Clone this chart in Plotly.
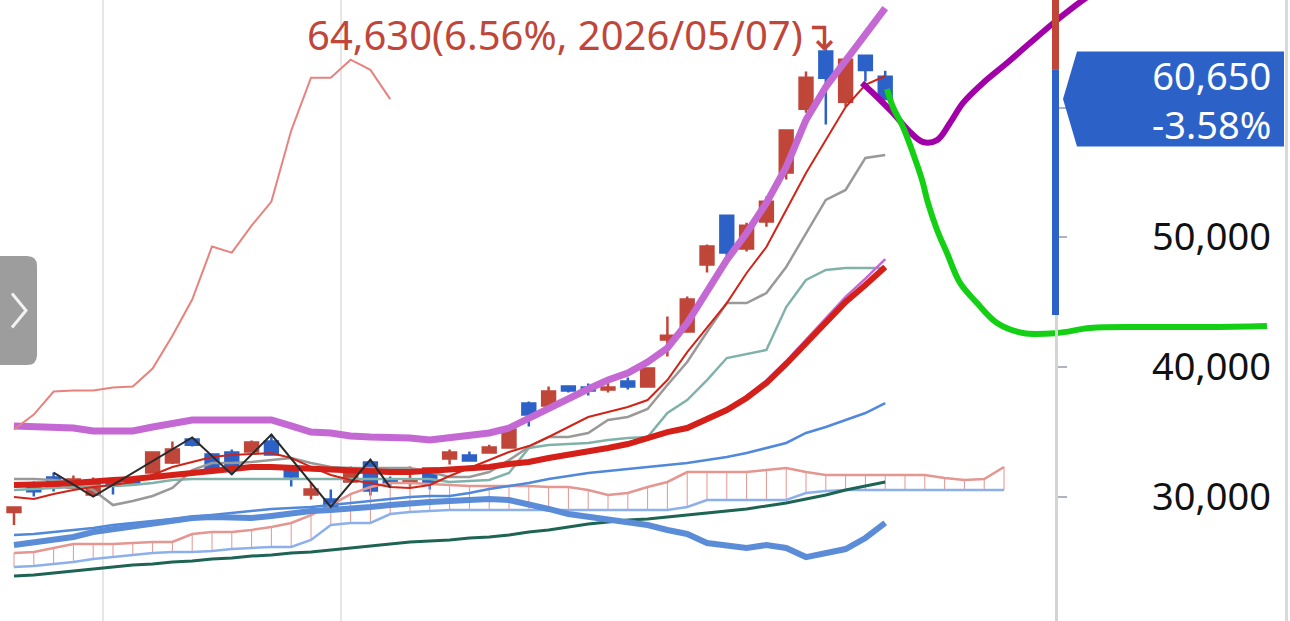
import plotly.graph_objects as go

# ---- daily candles (index 0 = leftmost day) ----
opens = [28800, 30700, 31460, 30700, 30150, 31000, 31390, 31850, 32620, 34390,
         33240, 33390, 33470, 34240, 32080, 30150, 29770, 31160, 32620, 31310,
         31080, 32160, 32930, 33160, 33390, 33780, 37170, 37020, 38480, 38400,
         38250, 38870, 38480, 42100, 42720, 47890, 51660, 49120, 51200, 54980,
         59910, 64310, 60450, 64000, 62380]
highs = [29200, 31150, 31850, 31620, 31460, 31460, 31540, 33400, 34240, 34550,
         33300, 33620, 34320, 34780, 32200, 31080, 30540, 32310, 32850, 31540,
         32310, 32200, 33620, 33470, 34000, 35400, 37330, 38480, 38500, 38710,
         39020, 39170, 39950, 43880, 45420, 49430, 51660, 51120, 53130, 58220,
         62770, 64630, 63700, 64000, 62840]
lows = [27800, 30000, 30390, 30600, 30000, 30150, 31000, 31800, 32500, 33850,
        31930, 31700, 33400, 33200, 30770, 29770, 29200, 31100, 30080, 30700,
        30700, 30540, 32470, 32780, 33390, 33700, 35400, 36940, 38020, 37790,
        38020, 38250, 38400, 40800, 42700, 47270, 47890, 48890, 50810, 54440,
        59600, 58680, 60070, 62000, 60650]
closes = [29150, 30400, 30770, 31310, 31160, 30850, 31080, 33390, 33620, 34000,
          32080, 32310, 34160, 33240, 31540, 30540, 29230, 32080, 30460, 31080,
          31310, 31080, 33390, 32780, 33780, 35170, 36320, 38100, 38170, 38170,
          38400, 38480, 39870, 42400, 45190, 49280, 48810, 50890, 52740, 58220,
          62300, 62300, 63690, 62900, 60650]

# ---- indicator lines ----
bb_upper = [35440, 35360, 35360, 35280, 35050, 35050, 35050, 35360, 35590, 35900,
            35900, 35900, 35900, 35900, 35440, 34970, 34900, 34670, 34590, 34590,
            34510, 34360, 34510, 34670, 34900, 35280, 36050, 36900, 37670, 38290,
            38980, 39520, 40370, 41450, 43380, 45930, 48240, 50320, 52640, 55410,
            59040, 61580, 63660, 65750, 67670]
bb_mid = [30890, 30890, 30960, 31040, 31200, 31270, 31350, 31500, 31660, 31890,
          32040, 32200, 32280, 32280, 32200, 32120, 32040, 31970, 31970, 31890,
          31890, 31970, 32040, 32120, 32280, 32510, 32660, 32970, 33200, 33430,
          33740, 34050, 34510, 34970, 35280, 35980, 36670, 37600, 38750, 40220,
          41840, 43460, 45000, 46310, 47700]
bb_lower = [26260, 26490, 26650, 26880, 27260, 27490, 27730, 27960, 28110, 28340,
            28420, 28420, 28340, 28500, 28730, 28880, 28960, 29040, 29190, 29340,
            29500, 29580, 29650, 29730, 29810, 29730, 29420, 29040, 28650, 28420,
            28190, 28030, 27800, 27420, 27110, 26410, 26180, 26030, 26260, 26030,
            25330, 25640, 25950, 26800, 27960]
ma5 = [29960, 29810, 30190, 30500, 30730, 30890, 31120, 31660, 32280, 32660,
       33050, 33200, 33280, 33350, 32970, 32280, 31660, 31270, 31040, 30730,
       30660, 30890, 31580, 32200, 32810, 33430, 33890, 34590, 35360, 36130,
       36520, 36900, 37440, 38980, 41140, 43070, 44920, 47240, 49240, 52100,
       54950, 57490, 60040, 61740, 62430]
tenkan = [31350, 31350, 31270, 31120, 30500, 29340, 29650, 30040, 30660, 32040,
          32580, 32580, 32660, 32810, 32970, 32580, 32280, 32200, 32200, 32200,
          32200, 31890, 31500, 31500, 31890, 32810, 33820, 34590, 34590, 34900,
          35900, 36130, 36750, 38600, 40370, 42690, 44920, 44920, 45690, 47700,
          50320, 52870, 53640, 56110, 56340]
kijun = [30500, 30580, 30660, 30730, 30810, 30810, 30890, 31040, 31270, 31350,
         31350, 31350, 31350, 31350, 31350, 31350, 31350, 31350, 31350, 31350,
         31350, 31350, 31120, 31200, 31270, 31810, 33740, 33970, 34050, 34130,
         34360, 34510, 34590, 36440, 37440, 38980, 40680, 40990, 41300, 44610,
         46700, 47470, 47620, 47620, 47620]
ma60 = [27030, 27110, 27260, 27420, 27570, 27800, 27960, 28110, 28270, 28420,
        28570, 28730, 28880, 29040, 29110, 29190, 29340, 29500, 29650, 29810,
        29960, 30040, 30040, 30270, 30580, 30810, 31040, 31350, 31580, 31810,
        31970, 32120, 32280, 32430, 32580, 32810, 33050, 33350, 33740, 34130,
        34900, 35360, 35900, 36440, 37210]
ma120 = [23870, 23950, 24100, 24250, 24410, 24560, 24720, 24790, 24950, 25030,
         25180, 25260, 25410, 25490, 25640, 25720, 25870, 26030, 26180, 26340,
         26490, 26570, 26650, 26800, 26880, 27030, 27260, 27420, 27650, 27880,
         28030, 28190, 28270, 28420, 28570, 28730, 28880, 29040, 29270, 29500,
         29810, 30120, 30500, 30810, 31120]
# envelope line mostly hidden under the 20 day line, starts at day 26
env_start = 26
envelope = [32600, 32900, 33150, 33400, 33750, 34100, 34600, 35050, 35400, 36100,
            36800, 37750, 38950, 40450, 42100, 43800, 45400, 46800, 48300]

# leading spans run 6 days past the last candle
span_a = [25640, 25720, 26030, 26340, 26340, 26340, 26410, 26490, 26490, 27110,
          27260, 27260, 27420, 27650, 27960, 28570, 29340, 30190, 30730, 31040,
          31040, 30960, 30890, 30810, 30810, 30810, 30810, 30730, 30730, 30500,
          30120, 30270, 30730, 31120, 31890, 31890, 31890, 31890, 32040, 32200,
          31890, 31660, 31660, 31660, 31660, 31660, 31660, 31430, 31270, 31350,
          32280]
span_b = [24560, 24640, 24790, 24950, 25180, 25330, 25490, 25640, 25720, 25720,
          25800, 25950, 26030, 26110, 26110, 26650, 27800, 27960, 27960, 28650,
          28800, 28880, 28960, 28960, 28960, 28960, 28960, 28960, 28960, 28960,
          28960, 28960, 28960, 28960, 29190, 29730, 29730, 29730, 29730, 29730,
          30270, 30420, 30500, 30500, 30500, 30500, 30500, 30500, 30500, 30500,
          30500]
lag_shift = 25

# zigzag pivots (day index, H = high / L = low)
zz_days = [2, 4, 9, 11, 13, 16, 18, 19]
zz_kind = ["H", "L", "H", "L", "H", "L", "H", "L"]

# hand drawn strokes (day index, price)
draw_purple_x = [42.83, 43.59, 44.39, 45.25, 45.91, 46.62, 47.27, 47.93, 48.94, 50.15, 51.31, 52.68, 53.99, 54.6]
draw_purple_y = [61890, 60810, 59580, 58110, 57340, 57490, 58800, 60350, 61890, 63430, 64970, 66750, 68290, 68900]
draw_green_x = [44.09, 44.39, 44.9, 45.4, 45.86, 46.16, 46.62, 47.12, 47.78, 48.64, 49.65, 50.96, 52.68, 54.34, 56.87, 60.25, 63.28]
draw_green_y = [61430, 60040, 58500, 56490, 54410, 52640, 50550, 48780, 46470, 44920, 43380, 42610, 42610, 42990, 43070, 43070, 43150]

# axis / labels
y_ticks = [30000, 40000, 50000, 60000]
y_tick_text = ["30,000", "40,000", "50,000", ""]   # 60,000 sits under the price tag
y_range = [20400, 68290]
x_range = [-0.707, 64.444]
month_lines = [4.5, 16.5]
range_top, range_split, range_low = 69000, 62900, 44000
last_change = "-3.58%"
high_note = "64,630(6.56%, 2026/05/07)↴"
high_day = 41

RED = "#c0463a"
BLUE = "#2c62c8"

days = list(range(len(closes)))
fig = go.Figure()

# cloud hatch
hx, hy = [], []
for i, (a, b) in enumerate(zip(span_a, span_b)):
    hx += [i, i, None]
    hy += [a, b, None]
fig.add_trace(go.Scatter(x=hx, y=hy, mode="lines", line=dict(color="#e49691", width=1)))
cloud_days = list(range(len(span_a)))
fig.add_trace(go.Scatter(x=cloud_days, y=span_a, mode="lines", line=dict(color="#e49691", width=2.5)))
fig.add_trace(go.Scatter(x=cloud_days, y=span_b, mode="lines", line=dict(color="#8cb0ec", width=2.5)))

fig.add_trace(go.Scatter(x=days, y=ma120, mode="lines", line=dict(color="#1e6455", width=3)))
fig.add_trace(go.Scatter(x=days, y=ma60, mode="lines", line=dict(color="#5088dc", width=2.5)))
fig.add_trace(go.Scatter(x=days, y=bb_lower, mode="lines", line=dict(color="#5a8cd7", width=6)))
fig.add_trace(go.Scatter(x=days, y=kijun, mode="lines", line=dict(color="#80b2aa", width=2.5)))
fig.add_trace(go.Scatter(x=days, y=tenkan, mode="lines", line=dict(color="#999999", width=2.5)))
fig.add_trace(go.Scatter(x=days, y=bb_upper, mode="lines", line=dict(color="#c468d4", width=7)))
fig.add_trace(go.Scatter(x=days[env_start:], y=envelope, mode="lines", line=dict(color="#c468d4", width=2.5)))
fig.add_trace(go.Scatter(x=days, y=bb_mid, mode="lines", line=dict(color="#d42018", width=6)))
fig.add_trace(go.Scatter(x=days, y=ma5, mode="lines", line=dict(color="#d02418", width=2)))

# lagging span
fig.add_trace(go.Scatter(x=days[:len(closes) - lag_shift], y=closes[lag_shift:], mode="lines",
                         line=dict(color="#e8827d", width=2)))

fig.add_trace(go.Candlestick(
    x=days, open=opens, high=highs, low=lows, close=closes,
    increasing=dict(line=dict(color=RED, width=2.5), fillcolor=RED),
    decreasing=dict(line=dict(color=BLUE, width=2.5), fillcolor=BLUE),
    whiskerwidth=0,
))

zz_y = [highs[d] if k == "H" else lows[d] for d, k in zip(zz_days, zz_kind)]
fig.add_trace(go.Scatter(x=zz_days, y=zz_y, mode="lines", line=dict(color="#2a2a2a", width=2)))

fig.add_trace(go.Scatter(x=draw_purple_x, y=draw_purple_y, mode="lines",
                         line=dict(color="#a100a9", width=6, shape="spline")))
fig.add_trace(go.Scatter(x=draw_green_x, y=draw_green_y, mode="lines",
                         line=dict(color="#14d014", width=6, shape="spline")))

W, H = 1290, 621
axis_x = 1055.5 / W

shapes = [
    # price range bar on the axis
    dict(type="rect", xref="paper", yref="y", x0=1052 / W, x1=1059 / W, y0=range_split, y1=range_top,
         fillcolor=RED, line=dict(width=0), layer="above"),
    dict(type="rect", xref="paper", yref="y", x0=1052 / W, x1=1059 / W, y0=range_low, y1=range_split,
         fillcolor=BLUE, line=dict(width=0), layer="above"),
    # current price tag
    dict(type="path", xref="paper", yref="y", xsizemode="pixel", ysizemode="pixel",
         xanchor=1063 / W, yanchor=closes[-1],
         path="M 0 0 L 14 47.5 L 221 47.5 L 221 -47.5 L 14 -47.5 Z",
         fillcolor=BLUE, line=dict(width=0), layer="above"),
    # right border
    dict(type="line", xref="paper", yref="paper", x0=1286.5 / W, x1=1286.5 / W, y0=0, y1=1,
         line=dict(color="#d9d9d9", width=3), layer="above"),
    # side panel button
    dict(type="path", xref="paper", yref="paper", xsizemode="pixel", ysizemode="pixel",
         xanchor=0, yanchor=0.5,
         path="M -10 -54.5 L 27 -54.5 Q 37 -54.5 37 -44.5 L 37 44.5 Q 37 54.5 27 54.5 L -10 54.5 Z",
         fillcolor="#9d9d9d", line=dict(width=0), layer="above"),
    dict(type="path", xref="paper", yref="paper", xsizemode="pixel", ysizemode="pixel",
         xanchor=0, yanchor=0.5, path="M 12 -17 L 26 0 L 12 17",
         line=dict(color="#f2f2f2", width=3), layer="above"),
]

annotations = [
    dict(x=1273 / W, xref="paper", y=closes[-1], yref="y", xanchor="right", yanchor="middle",
         text=f"{closes[-1]:,}<br>{last_change}", align="right", showarrow=False,
         font=dict(size=38, color="white")),
    dict(x=high_day, y=highs[high_day], xref="x", yref="y", xanchor="right", yanchor="middle",
         xshift=12, yshift=13, text=high_note, showarrow=False,
         font=dict(size=40, color=RED, family="Noto Sans, DejaVu Sans")),
]

fig.update_layout(
    template="none",
    width=W, height=H,
    margin=dict(l=0, r=0, t=0, b=0),
    paper_bgcolor="white", plot_bgcolor="white",
    showlegend=False,
    font=dict(family="Noto Sans", color="#111111"),
    boxgap=0.35, boxgroupgap=0,
    shapes=shapes,
    annotations=annotations,
    xaxis=dict(range=x_range, tickvals=month_lines, showticklabels=False, ticks="",
               showgrid=True, gridcolor="#e6e6e6", gridwidth=2, zeroline=False,
               showline=False, rangeslider=dict(visible=False)),
    yaxis=dict(range=y_range, side="right", anchor="free", position=axis_x,
               showline=True, linecolor="#d4d4d4", linewidth=3,
               ticks="outside", ticklen=9, tickwidth=2, tickcolor="#aeb4bd",
               tickvals=y_ticks, ticktext=y_tick_text,
               tickfont=dict(size=38, color="#111111"), ticklabelstandoff=78,
               showgrid=False, zeroline=False),
)

fig.write_html("out.html", config={"displayModeBar": False},
               post_script="document.body.style.margin='0';document.body.style.overflow='hidden';")
